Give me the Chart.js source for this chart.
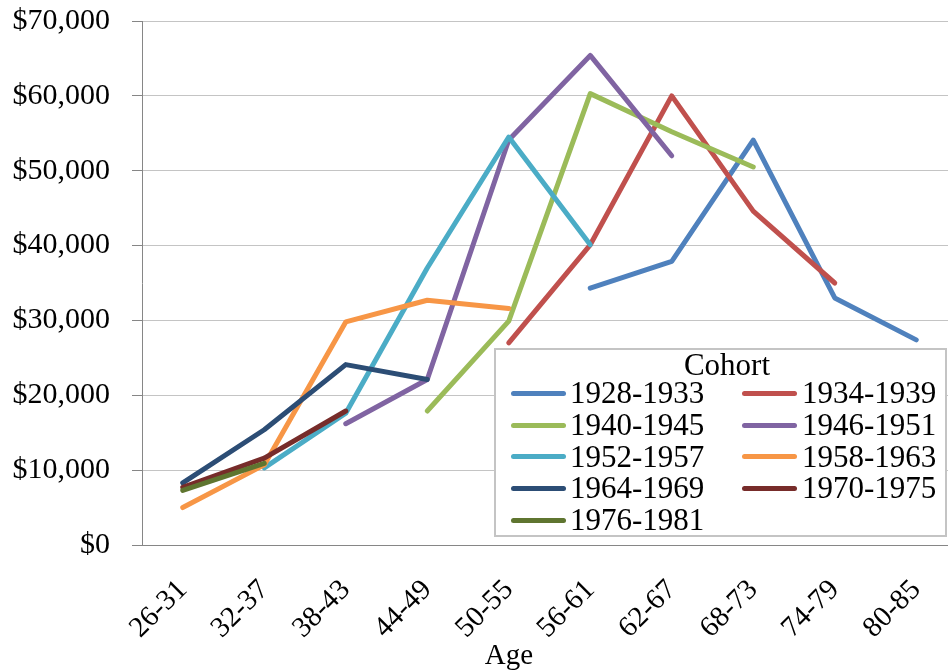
<!DOCTYPE html>
<html>
<head>
<meta charset="utf-8">
<script src="https://cdn.jsdelivr.net/npm/chart.js@4.4.1/dist/chart.umd.min.js"></script>
<style>
  html, body { margin: 0; padding: 0; background: #fff; }
  #wrap { position: relative; width: 948px; height: 671px; overflow: hidden; }
  #box { position: absolute; left: 0; top: 0; width: 960px; height: 671px; }
  .serif { font-family: "Liberation Serif", "Times New Roman", serif; color: #000; }
  #legend { position: absolute; left: 494px; top: 348px; width: 453px; height: 189px;
            box-sizing: border-box; border: 2px solid #c4c4c4; background: #fff;
            font-size: 31px; line-height: 1; }
  #legend .t { position: absolute; top: -1px; left: 231px; transform: translateX(-50%); white-space: nowrap; }
  #legend .sw { position: absolute; width: 55px; height: 5px; border-radius: 3px; }
  #legend .lb { position: absolute; white-space: nowrap; }
  #xtitle { position: absolute; top: 640px; left: 509px; transform: translateX(-50%);
            font-size: 29px; line-height: 1; white-space: nowrap; }
</style>
</head>
<body>
<div id="wrap">
  <div id="box"><canvas id="grafico"></canvas></div>
  <div id="legend" class="serif"></div>
  <div id="xtitle" class="serif">Age</div>
</div>
<script>
// faixas etárias e coortes
const AGES = ["26-31", "32-37", "38-43", "44-49", "50-55",
              "56-61", "62-67", "68-73", "74-79", "80-85"];
const COHORTS = ["1928-1933", "1934-1939", "1940-1945", "1946-1951", "1952-1957",
                 "1958-1963", "1964-1969", "1970-1975", "1976-1981"];
const COLORS = ["#4F81BD", "#C0504D", "#9BBB59", "#8064A2", "#4BACC6",
                "#F79646", "#2C4D75", "#772C2A", "#5F7530"];

const C1928 = [null, null, null, null, null, 34300, 37900, 54100, 33000, 27400];
const C1934 = [null, null, null, null, 27000, 40100, 60000, 44600, 35000, null];
const C1940 = [null, null, null, 17900, 29900, 60300, 55200, 50500, null, null];
const C1946 = [null, null, 16200, 22100, 54100, 65400, 52000, null, null, null];
const C1952 = [null, 10300, 17600, 37000, 54500, 40100, null, null, null, null];
const C1958 = [5000, 10700, 29800, 32700, 31600, null, null, null, null, null];
const C1964 = [8300, 15400, 24100, 22100, null, null, null, null, null, null];
const C1970 = [7700, 11600, 17900, null, null, null, null, null, null, null];
const C1976 = [7300, 10900, null, null, null, null, null, null, null, null];
const SERIES = [C1928, C1934, C1940, C1946, C1952, C1958, C1964, C1970, C1976];

const FONTE = "'Liberation Serif', 'Times New Roman', serif";

// legenda em duas colunas, como no original
const leg = document.getElementById("legend");
leg.insertAdjacentHTML("beforeend", `<div class="t">Cohort</div>`);
COHORTS.forEach((c, i) => {
  const col = i % 2, row = Math.floor(i / 2);
  const top = 27.3 + row * 31.7;
  const swX = col ? 246 : 15;
  const txX = col ? 306 : 74;
  leg.insertAdjacentHTML("beforeend",
    `<div class="sw" style="left:${swX}px;top:${top + 13.5}px;background:${COLORS[i]}"></div>
     <div class="lb" style="left:${txX}px;top:${top}px">${c}</div>`);
});

new Chart(document.getElementById("grafico"), {
  type: "line",
  data: {
    labels: AGES,
    datasets: COHORTS.map((c, i) => ({
      label: c, data: SERIES[i], borderColor: COLORS[i], backgroundColor: COLORS[i],
      borderWidth: 5, pointRadius: 0, fill: false, tension: 0,
      borderCapStyle: "round", borderJoinStyle: "round",
      order: COHORTS.length - i,   // séries mais novas por cima
    })),
  },
  options: {
    responsive: true, maintainAspectRatio: false, animation: false,
    layout: { padding: { top: 21, right: 3, left: 0, bottom: 0 } },
    plugins: { legend: { display: false }, tooltip: { enabled: false } },
    scales: {
      x: {
        offset: true,
        grid: { display: false },
        border: { color: "#868686", width: 1 },
        ticks: { color: "#000", font: { family: FONTE, size: 29 },
                 minRotation: 45, maxRotation: 45, padding: 20, autoSkip: false },
        afterFit: s => { s.height = 126; s.paddingLeft = 0; s.paddingRight = 0; },
      },
      y: {
        min: 0, max: 70000,
        ticks: { stepSize: 10000, color: "#000", font: { family: FONTE, size: 30 }, padding: 22,
                 callback: v => "$" + v.toLocaleString("en-US") },
        grid: { color: "#c4c4c4", tickColor: "#868686", tickLength: 10, lineWidth: 1 },
        border: { color: "#868686" },
        afterFit: s => { s.width = 142; s.paddingTop = 0; s.paddingBottom = 0; },
      },
    },
  },
});
</script>
</body>
</html>
